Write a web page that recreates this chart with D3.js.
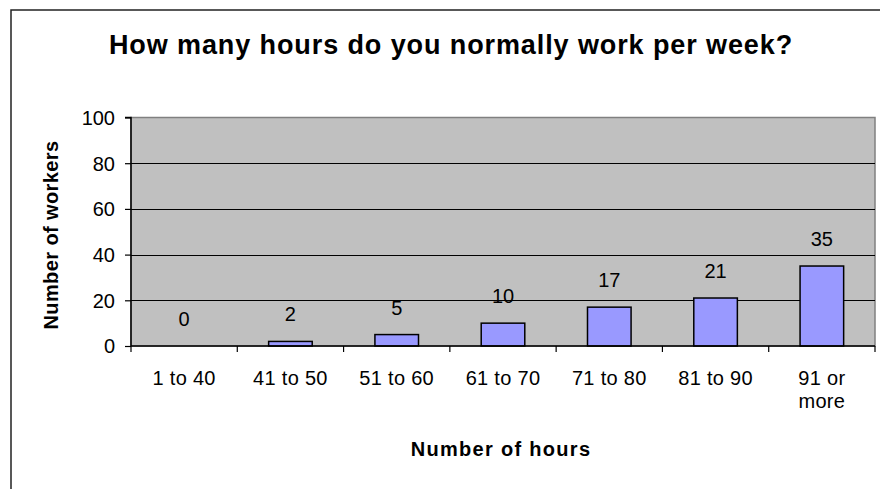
<!DOCTYPE html>
<html>
<head>
<meta charset="utf-8">
<script src="https://cdn.jsdelivr.net/npm/d3@7"></script>
<style>
  html, body { margin: 0; padding: 0; background: #fff; }
  svg { display: block; font-family: "Liberation Sans", Arial, sans-serif; }
</style>
</head>
<body>
<svg id="chart" width="880" height="489"></svg>
<script>
const categories = ["1 to 40", "41 to 50", "51 to 60", "61 to 70", "71 to 80", "81 to 90", "91 or more"];
const categoryLines = [["1 to 40"], ["41 to 50"], ["51 to 60"], ["61 to 70"], ["71 to 80"], ["81 to 90"], ["91 or", "more"]];
const workers = [0, 2, 5, 10, 17, 21, 35];
const yTicks = [0, 20, 40, 60, 80, 100];
const title = "How many hours do you normally work per week?";
const xTitle = "Number of hours";
const yTitle = "Number of workers";

const svg = d3.select("#chart");
const W = 880, H = 489;
const plot = { left: 131, right: 875, top: 117.5, bottom: 346 };

// outer chart border
svg.append("rect")
  .attr("x", 11).attr("y", 10)
  .attr("width", W + 10).attr("height", H + 10)
  .attr("fill", "#fff").attr("stroke", "#222").attr("stroke-width", 1.5);

const x = d3.scaleBand().domain(categories).range([plot.left, plot.right]).paddingInner(0).paddingOuter(0);
const y = d3.scaleLinear().domain([0, 100]).range([plot.bottom, plot.top]);

// plot background
svg.append("rect")
  .attr("x", plot.left).attr("y", plot.top)
  .attr("width", plot.right - plot.left).attr("height", plot.bottom - plot.top)
  .attr("fill", "#C0C0C0").attr("stroke", "#808080").attr("stroke-width", 1.5);

// gridlines
svg.append("g").selectAll("line").data(yTicks.filter(d => d > 0 && d < 100)).join("line")
  .attr("x1", plot.left).attr("x2", plot.right)
  .attr("y1", d => Math.round(y(d)) + 0.5).attr("y2", d => Math.round(y(d)) + 0.5)
  .attr("stroke", "#000").attr("stroke-width", 1);

// bars
const barW = x.bandwidth() * 0.41;
svg.append("g").selectAll("rect").data(workers).join("rect")
  .attr("x", (d, i) => x(categories[i]) + (x.bandwidth() - barW) / 2)
  .attr("y", d => y(d))
  .attr("width", barW)
  .attr("height", d => plot.bottom - y(d))
  .attr("fill", "#9999FF")
  .attr("stroke", "#000").attr("stroke-width", 1.5)
  .attr("display", d => d > 0 ? null : "none");

// value labels
svg.append("g").selectAll("text").data(workers).join("text")
  .attr("x", (d, i) => x(categories[i]) + x.bandwidth() / 2)
  .attr("y", d => y(d) - 20)
  .attr("text-anchor", "middle")
  .attr("font-size", 20).attr("fill", "#000")
  .text(d => d);

// y axis
const yAxis = d3.axisLeft(y).tickValues(yTicks).tickSize(6).tickPadding(10).tickFormat(d3.format("d"));
const gy = svg.append("g").attr("transform", `translate(${plot.left},0)`).call(yAxis);
gy.select(".domain").attr("stroke", "#000").attr("stroke-width", 1.5).attr("d", `M-6,${plot.top}H0V${plot.bottom}`);
gy.selectAll(".tick line").attr("stroke", "#000").attr("stroke-width", 1.2);
gy.selectAll(".tick text").attr("font-size", 20).attr("font-family", "Liberation Sans, Arial, sans-serif").attr("fill", "#000").attr("dy", "0.34em");

// x axis
const xAxis = d3.axisBottom(x).tickSize(0).tickFormat("");
const gx = svg.append("g").attr("transform", `translate(0,${plot.bottom})`).call(xAxis);
gx.select(".domain").attr("stroke", "#000").attr("stroke-width", 1.5).attr("d", `M${plot.left},0H${plot.right}`);
// boundary ticks
const bounds = categories.map(c => x(c)).concat([plot.right]);
gx.selectAll(".bnd").data(bounds).join("line").attr("class", "bnd")
  .attr("x1", d => d).attr("x2", d => d).attr("y1", 0).attr("y2", 6)
  .attr("stroke", "#000").attr("stroke-width", 1.2);

// category labels
const catG = svg.append("g");
categoryLines.forEach((lines, i) => {
  const t = catG.append("text")
    .attr("x", x(categories[i]) + x.bandwidth() / 2)
    .attr("y", 385)
    .attr("text-anchor", "middle")
    .attr("font-size", 20).attr("letter-spacing", 0.3).attr("fill", "#000");
  lines.forEach((ln, j) => {
    t.append("tspan").attr("x", x(categories[i]) + x.bandwidth() / 2).attr("dy", j === 0 ? 0 : 23).text(ln);
  });
});

// title
svg.append("text")
  .attr("x", 451).attr("y", 54)
  .attr("text-anchor", "middle")
  .attr("font-size", 27).attr("font-weight", "bold").attr("letter-spacing", 0.9)
  .text(title);

// x title
svg.append("text")
  .attr("x", 501).attr("y", 456)
  .attr("text-anchor", "middle")
  .attr("font-size", 20).attr("font-weight", "bold").attr("letter-spacing", 1.3)
  .text(xTitle);

// y title
svg.append("text")
  .attr("transform", `translate(58,235) rotate(-90)`)
  .attr("text-anchor", "middle")
  .attr("font-size", 20).attr("font-weight", "bold").attr("letter-spacing", 0.4)
  .text(yTitle);
</script>
</body>
</html>
